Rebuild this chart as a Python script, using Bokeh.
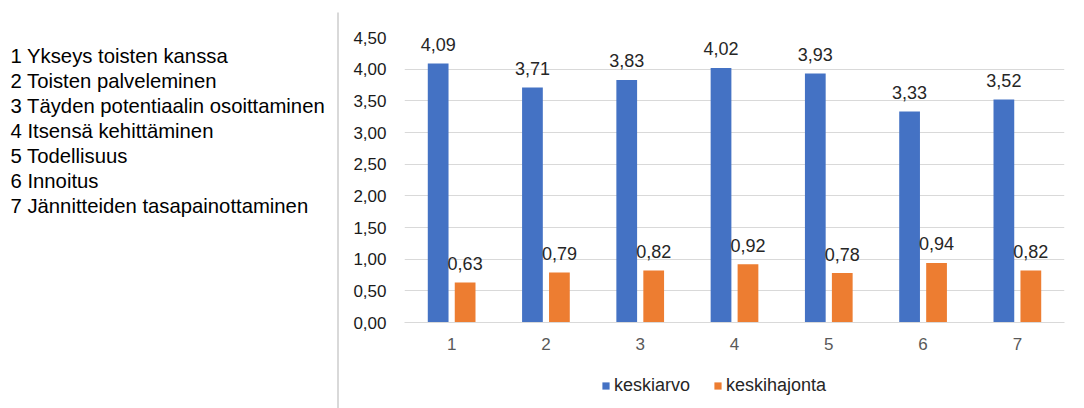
from bokeh.plotting import figure
from bokeh.models import (ColumnDataSource, Range1d, FactorRange, FixedTicker,
                          CustomJSTickFormatter, Legend, LegendItem)
from bokeh.transform import dodge
from bokeh.layouts import row, column
from bokeh.core.properties import value
from bokeh.embed import file_html
from bokeh.resources import INLINE

# Dimensions and their mean / standard deviation
categories = ["1", "2", "3", "4", "5", "6", "7"]
category_names = [
    "Ykseys toisten kanssa",
    "Toisten palveleminen",
    "Täyden potentiaalin osoittaminen",
    "Itsensä kehittäminen",
    "Todellisuus",
    "Innoitus",
    "Jännitteiden tasapainottaminen",
]
keskiarvo = [4.09, 3.71, 3.83, 4.02, 3.93, 3.33, 3.52]
keskihajonta = [0.63, 0.79, 0.82, 0.92, 0.78, 0.94, 0.82]
y_ticks = [0.0, 0.5, 1.0, 1.5, 2.0, 2.5, 3.0, 3.5, 4.0, 4.5]

FONT = "Liberation Sans"
BLUE = "#4472C4"
ORANGE = "#ED7D31"
GRID = "#D9D9D9"


def fi(v):
    return f"{v:.2f}".replace(".", ",")


def blank(fig):
    fig.axis.visible = False
    fig.grid.visible = False
    fig.outline_line_color = None


# ---- left panel: numbered key of the dimensions ----
key = figure(width=340, height=408, x_range=Range1d(0, 340), y_range=Range1d(0, 408),
             output_backend="svg", toolbar_location=None, min_border=0)
blank(key)
key_src = ColumnDataSource(dict(
    x=[10] * len(categories),
    y=[408 - (55 + 25 * i) for i in range(len(categories))],
    t=[f"{c} {n}" for c, n in zip(categories, category_names)],
))
key.text(x="x", y="y", text="t", source=key_src, text_font=value(FONT),
         text_font_size="20.3px", text_baseline="middle", text_align="left",
         text_color="#000000")
key.segment(x0=[337.5], y0=[0], x1=[337.5], y1=[408 - 12], line_color=GRID, line_width=2)

# ---- grouped bar chart ----
src = ColumnDataSource(dict(
    cat=categories,
    mean=keskiarvo,
    sd=keskihajonta,
    mean_lbl=[fi(v) for v in keskiarvo],
    sd_lbl=[fi(v) for v in keskihajonta],
))

p = figure(width=744, height=360, x_range=FactorRange(*categories), y_range=Range1d(0, 4.5),
           output_backend="svg", toolbar_location=None,
           min_border_left=64, min_border_right=20, min_border_top=37, min_border_bottom=38)
p.outline_line_color = None

OFF = 0.143
W = 0.22
p.vbar(x=dodge("cat", -OFF, range=p.x_range), top="mean", width=W, source=src,
       fill_color=BLUE, line_color=None)
p.vbar(x=dodge("cat", OFF, range=p.x_range), top="sd", width=W, source=src,
       fill_color=ORANGE, line_color=None)

# value labels above each bar
for xo, col in ((-OFF, "mean"), (OFF, "sd")):
    p.text(x=dodge("cat", xo, range=p.x_range), y=col, text=col + "_lbl", source=src,
           text_font=value(FONT), text_font_size="18px", text_align="center",
           text_baseline="middle", y_offset=-19, text_color="#262626")

p.xgrid.visible = False
p.ygrid.grid_line_color = GRID
p.ygrid.grid_line_width = 1
p.yaxis.ticker = FixedTicker(ticks=y_ticks)
p.yaxis.formatter = CustomJSTickFormatter(code="return tick.toFixed(2).replace('.', ',');")
p.yaxis.axis_line_color = None
p.yaxis.major_tick_line_color = None
p.yaxis.minor_tick_line_color = None
p.yaxis.major_label_text_font = FONT
p.yaxis.major_label_text_font_size = "17px"
p.yaxis.major_label_text_color = "#1a1a1a"
p.yaxis.major_label_standoff = 12

p.xaxis.axis_line_color = GRID
p.xaxis.axis_line_width = 1
p.xaxis.major_tick_line_color = None
p.xaxis.minor_tick_line_color = None
p.xaxis.major_label_text_font = FONT
p.xaxis.major_label_text_font_size = "17px"
p.xaxis.major_label_text_color = "#595959"
p.xaxis.major_label_standoff = 9

# ---- legend strip under the chart (zero-height swatch renderers, only their legend glyphs show) ----
leg = figure(width=744, height=48, x_range=Range1d(0, 1), y_range=Range1d(0, 1),
             output_backend="svg", toolbar_location=None, min_border=0)
blank(leg)
swatch_mean = leg.vbar(x=[0.5], top=[0], bottom=[0], width=0.1, fill_color=BLUE, line_color=None)
swatch_sd = leg.vbar(x=[0.5], top=[0], bottom=[0], width=0.1, fill_color=ORANGE, line_color=None)
legend = Legend(items=[LegendItem(label="keskiarvo", renderers=[swatch_mean]),
                       LegendItem(label="keskihajonta", renderers=[swatch_sd])],
                orientation="horizontal", location=(197, 12),
                glyph_width=9, glyph_height=9, label_standoff=4, spacing=23,
                label_text_font=FONT, label_text_font_size="18px",
                label_text_color="#262626", border_line_color=None,
                background_fill_alpha=0, padding=0, margin=0)
leg.add_layout(legend, "center")

layout = row(key, column(p, leg, spacing=0), spacing=0)
open("out.html", "w").write(file_html(layout, INLINE))
